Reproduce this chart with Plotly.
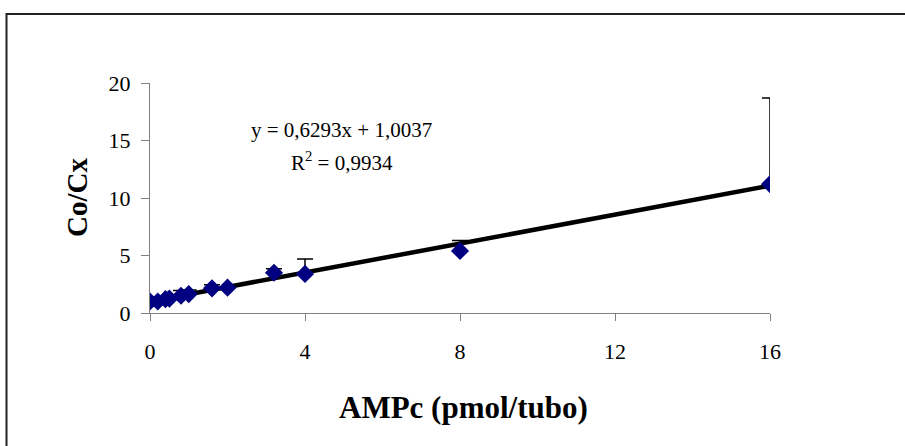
import plotly.graph_objects as go
import numpy as np

# Data
ampc = [0, 0.2, 0.4, 0.5, 0.8, 1.0, 1.6, 2.0, 3.2, 4.0, 8.0, 16.0]
co_cx = [1.0, 1.0, 1.2, 1.25, 1.5, 1.65, 2.15, 2.2, 3.5, 3.4, 5.4, 11.2]
err_plus = [0, 0, 0, 0, 0.45, 0.35, 0.3, 0, 0.35, 1.3, 0.9, 7.5]

slope = 0.6293
intercept = 1.0037
x_ticks = [0, 4, 8, 12, 16]
y_ticks = [0, 5, 10, 15, 20]

trend_x = np.array([min(ampc), max(ampc)])
trend_y = slope * trend_x + intercept

FONT = "Liberation Serif, Times New Roman, serif"

# body margin removed via post_script; plot area at x 150..770, y 83..313
L, T, PW, PH = 150, 83, 620, 230

fig = go.Figure()
fig.add_trace(go.Scatter(
    x=trend_x, y=trend_y, mode="lines",
    line=dict(color="black", width=4.5), showlegend=False, hoverinfo="skip"))
fig.add_trace(go.Scatter(
    x=ampc, y=co_cx, mode="markers",
    marker=dict(symbol="diamond", size=14, color="#000080",
                line=dict(width=0)),
    error_y=dict(type="data", symmetric=False, array=err_plus,
                 arrayminus=[0] * len(err_plus), color="black",
                 thickness=1.5, width=8),
    showlegend=False))

fig.update_layout(
    width=905, height=446,
    margin=dict(l=L, r=905 - L - PW, t=T, b=446 - T - PH),
    paper_bgcolor="white", plot_bgcolor="white",
    font=dict(family=FONT, size=22, color="black"),
    xaxis=dict(range=[0, 16], tickvals=x_ticks, ticks="outside", ticklen=7,
               tickcolor="#808080", showline=True, linecolor="#808080",
               linewidth=1, showgrid=False, zeroline=False,
               tickfont=dict(family=FONT, size=22), ticklabelstandoff=12),
    yaxis=dict(range=[0, 20], tickvals=y_ticks, ticks="outside", ticklen=8,
               tickcolor="#808080", showline=True, linecolor="#808080",
               linewidth=1, showgrid=False, zeroline=False,
               tickfont=dict(family=FONT, size=22), ticklabelstandoff=6),
    annotations=[
        dict(x=(463 - 150) / PW, y=(313 - 407) / PH, xref="paper", yref="paper",
             showarrow=False, text="<b>AMPc (pmol/tubo)</b>",
             font=dict(family=FONT, size=31), xanchor="center", yanchor="middle"),
        dict(x=(77 - 150) / PW, y=(313 - 198) / PH, xref="paper", yref="paper",
             showarrow=False, text="<b>Co/Cx</b>", textangle=-90,
             font=dict(family=FONT, size=29), xanchor="center", yanchor="middle"),
        dict(x=4.95, y=15.9, xref="x", yref="y", showarrow=False,
             text="y = 0,6293x + 1,0037", font=dict(family=FONT, size=21)),
        dict(x=4.95, y=13.2, xref="x", yref="y", showarrow=False,
             text="R<sup>2</sup> = 0,9934", font=dict(family=FONT, size=21)),
    ],
    shapes=[
        dict(type="rect", xref="paper", yref="paper",
             x0=(6.5 - 150) / PW, x1=(925 - 150) / PW,
             y0=(313 - 470) / PH, y1=(313 - 14) / PH,
             line=dict(color="#222222", width=2), layer="below"),
    ],
)

fig.write_html("out.html",
               config={"displayModeBar": False},
               post_script="document.body.style.margin='0';document.body.style.padding='0';")
